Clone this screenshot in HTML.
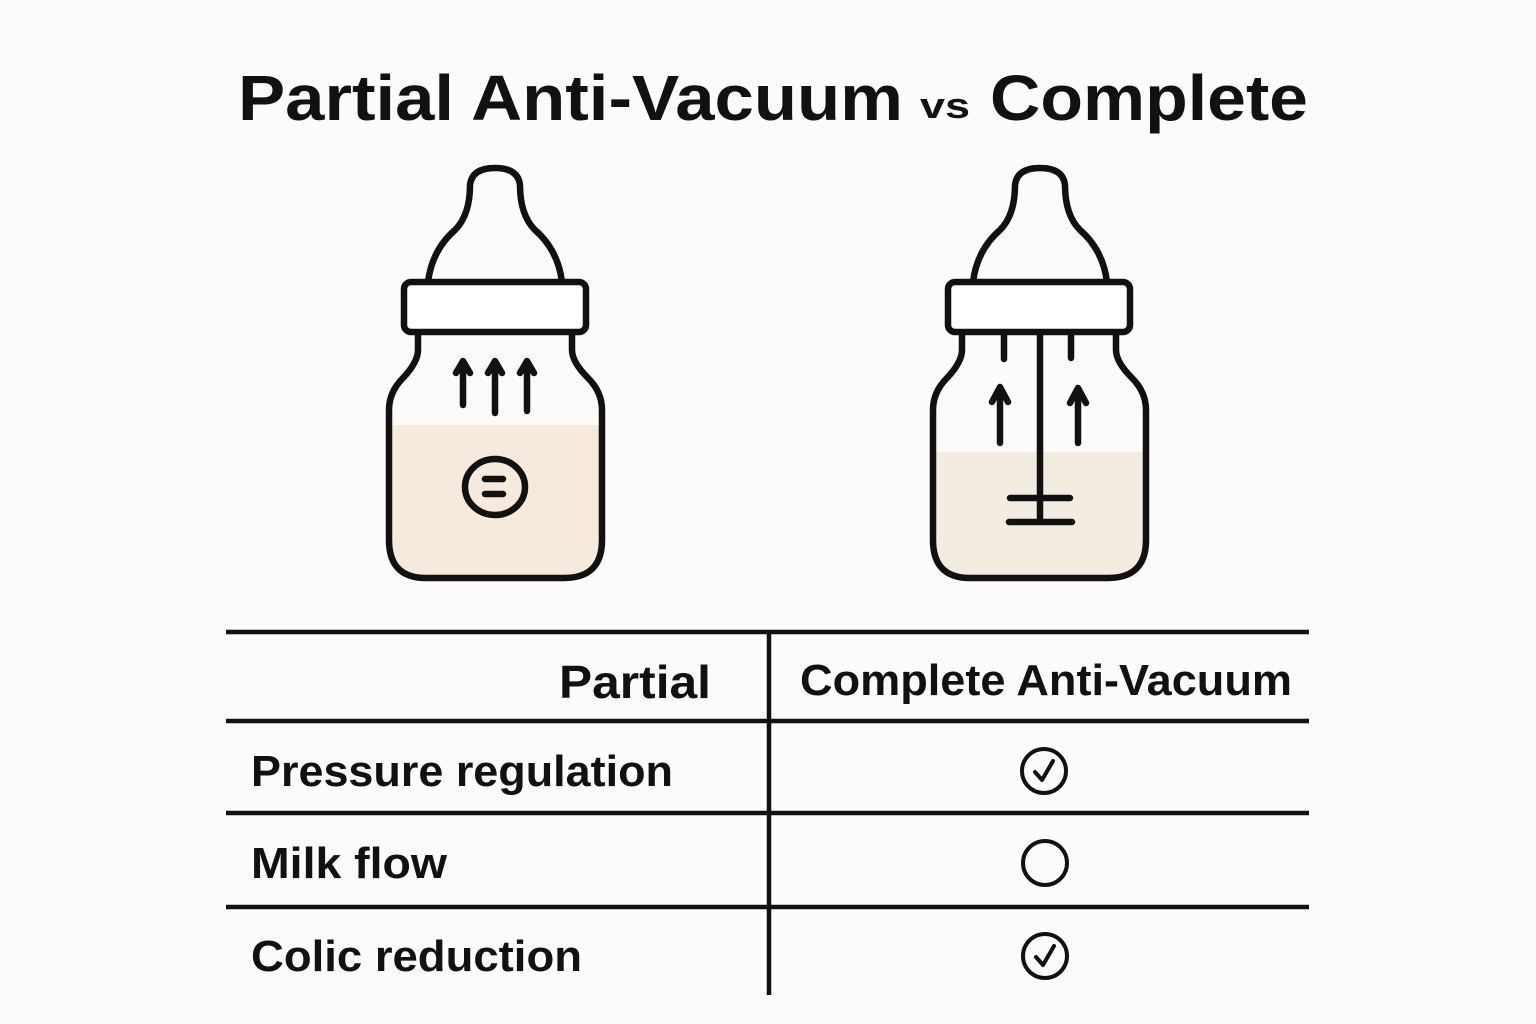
<!DOCTYPE html>
<html><head><meta charset="utf-8"><style>
html,body{margin:0;padding:0;background:#fcfbf9;}
svg{display:block;}
text{font-family:"Liberation Sans",sans-serif;fill:#111;font-weight:bold;}
</style></head><body>
<svg width="1536" height="1024" viewBox="0 0 1536 1024" xmlns="http://www.w3.org/2000/svg">
<rect width="1536" height="1024" fill="#fcfbf9"/>
<text x="238" y="120" font-size="64" textLength="665" lengthAdjust="spacingAndGlyphs">Partial Anti-Vacuum</text>
<text x="920" y="118" font-size="36" textLength="50" lengthAdjust="spacingAndGlyphs">vs</text>
<text x="990" y="120" font-size="64" textLength="318" lengthAdjust="spacingAndGlyphs">Complete</text>

<g fill="none" stroke="#111" stroke-width="6.5" stroke-linejoin="round" stroke-linecap="round">
<!-- left bottle -->
<path d="M389 425 L602 425 L602 540 Q602 578 564 578 L426 578 Q389 578 389 540 Z" fill="#f5eadb" stroke="none"/>
<path d="M418 334 L418 350 Q418 362 403 378 Q389 392 389 410 L389 540 Q389 578 426 578 L564 578 Q602 578 602 540 L602 410 Q602 392 588 378 Q572 362 572 350 L572 334"/>
<path d="M428 282 Q432 250 455 230 Q470 215 470 185 Q472 168 495 168 Q518 168 520 185 Q520 215 535 230 Q558 250 562 282"/>
<rect x="404" y="282" width="182" height="50" rx="7" fill="#fff"/>
<path d="M463 405 L463 362 M456 373 L463 361 L470 373 M495 413 L495 362 M488 373 L495 361 L502 373 M527 411 L527 362 M520 373 L527 361 L534 373"/>
<ellipse cx="495" cy="487" rx="30" ry="28"/>
<path d="M485 479 L503 479 M485 494 L503 494"/>
<!-- right bottle -->
<path d="M933 452 L1146 452 L1146 540 Q1146 578 1108 578 L970 578 Q933 578 933 540 Z" fill="#f3ece0" stroke="none"/>
<path d="M962 334 L962 350 Q962 362 947 378 Q933 392 933 410 L933 540 Q933 578 970 578 L1108 578 Q1146 578 1146 540 L1146 410 Q1146 392 1132 378 Q1116 362 1116 350 L1116 334"/>
<path d="M973 282 Q977 250 1000 230 Q1015 215 1015 185 Q1017 168 1040 168 Q1063 168 1065 185 Q1065 215 1080 230 Q1103 250 1107 282"/>
<rect x="948" y="282" width="182" height="50" rx="7" fill="#fff"/>
<path d="M1040 334 L1040 522 M1010 498 L1070 498 M1009 522 L1072 522 M1004 336 L1004 359 M1071 336 L1071 358"/>
<path d="M1000 443 L1000 387 M992 402 L1000 387 L1008 402 M1078 443 L1078 388 M1070 403 L1078 388 L1086 403"/>
</g>

<!-- table -->
<g stroke="#111" stroke-width="4.5">
<line x1="226" y1="632" x2="1309" y2="632"/>
<line x1="226" y1="721" x2="1309" y2="721"/>
<line x1="226" y1="813" x2="1309" y2="813"/>
<line x1="226" y1="907" x2="1309" y2="907"/>
<line x1="769" y1="632" x2="769" y2="995"/>
</g>
<text x="711" y="698" font-size="46" text-anchor="end" textLength="152" lengthAdjust="spacingAndGlyphs">Partial</text>
<text x="800" y="695" font-size="44" textLength="492" lengthAdjust="spacingAndGlyphs">Complete Anti-Vacuum</text>
<text x="251" y="786" font-size="44" textLength="422" lengthAdjust="spacingAndGlyphs">Pressure regulation</text>
<text x="251" y="878" font-size="44" textLength="196" lengthAdjust="spacingAndGlyphs">Milk flow</text>
<text x="251" y="971" font-size="44" textLength="331" lengthAdjust="spacingAndGlyphs">Colic reduction</text>
<g fill="none" stroke="#111" stroke-width="4" stroke-linecap="round" stroke-linejoin="round">
<circle cx="1044" cy="771" r="22"/>
<path d="M1035 772 L1042 780 L1053 761"/>
<circle cx="1045" cy="863" r="22"/>
<circle cx="1045" cy="956" r="22"/>
<path d="M1036 957 L1043 965 L1054 946"/>
</g>
</svg>
</body></html>
